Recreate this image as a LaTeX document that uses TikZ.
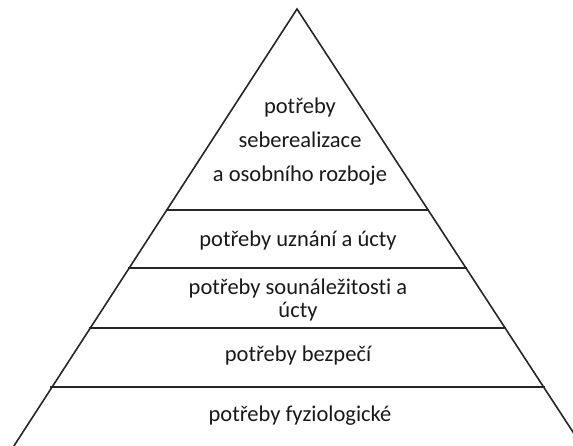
\documentclass[tikz,border=0pt]{standalone}
\usepackage{fontspec}
\setmainfont{Carlito}[Ligatures=NoCommon]
\begin{document}
\begin{tikzpicture}[x=1pt,y=-1pt,
  edge/.style={line width=1.6pt,black!85},
  lvl/.style={font=\fontsize{22.5}{34}\selectfont,align=center,text=black!90,inner sep=0pt}]
\useasboundingbox (0,0) rectangle (573,446);
\begin{scope}
\clip (0,0) rectangle (573,446);
\coordinate (apex) at (297,9);
\coordinate (bl) at (10,452);
\coordinate (br) at (586,452);
\draw[edge,line join=miter] (bl) -- (apex) -- (br);
\draw[edge] (165.5,210) -- (429,210);
\draw[edge] (127.5,268) -- (467,268);
\draw[edge] (88.5,328) -- (506,328);
\draw[edge] (50,387) -- (545,387);
\end{scope}
\node[lvl] (t1) at (300,142) {potřeby\\seberealizace\\a osobního rozboje};
\node[lvl] (t2) at (298,241) {potřeby uznání a úcty};
\node[lvl,font=\fontsize{22.5}{23}\selectfont] (t3) at (298,300) {potřeby sounáležitosti a\\úcty};
\node[lvl] (t4) at (298,356) {potřeby bezpečí};
\node[lvl] (t5) at (300,416) {potřeby fyziologické};
\end{tikzpicture}
\end{document}
